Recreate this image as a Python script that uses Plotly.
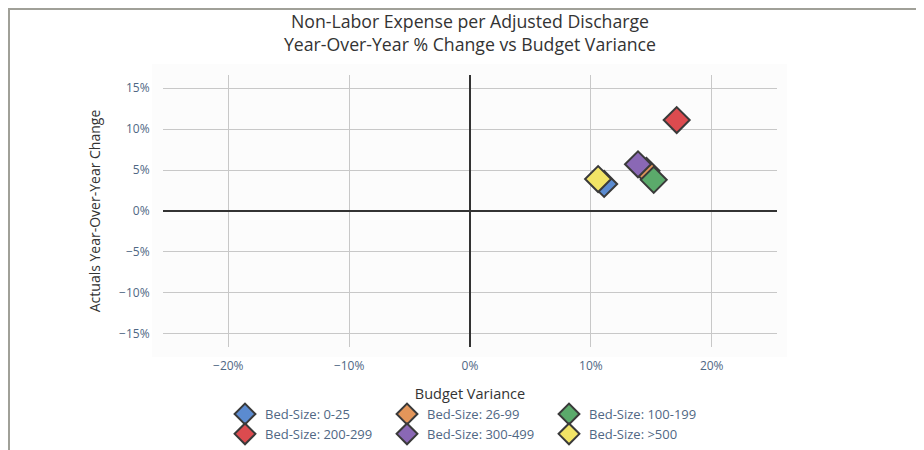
import plotly.graph_objects as go

# Data
series_names = ["Bed-Size: 0-25", "Bed-Size: 26-99", "Bed-Size: 100-199",
                "Bed-Size: 200-299", "Bed-Size: 300-499", "Bed-Size: >500"]
budget_variance = [0.111, 0.146, 0.152, 0.171, 0.139, 0.106]
yoy_change = [0.033, 0.049, 0.038, 0.111, 0.057, 0.039]
colors = ["#5B8BD0", "#E3965A", "#5BAA6B", "#DC4B4F", "#8A68B5", "#F2E466"]

x_ticks = [-0.2, -0.1, 0, 0.1, 0.2]
y_ticks = [-0.15, -0.10, -0.05, 0, 0.05, 0.10, 0.15]

# page body has an 8px margin, so work in figure coordinates = page - 8
OFF = 8
W, H = 924 - OFF, 450 - OFF
ML, MR, MT, MB = 163 - OFF, 147, 75 - OFF, 103
PW, PH = W - ML - MR, H - MT - MB

def px_x(p):  # page pixel -> paper x
    return (p - OFF - ML) / PW

def px_y(p):  # page pixel -> paper y
    return (H - MB - (p - OFF)) / PH

fig = go.Figure()
for name, xv, yv, c in zip(series_names, budget_variance, yoy_change, colors):
    fig.add_trace(go.Scatter(
        x=[xv], y=[yv], mode="markers", name=name,
        marker=dict(symbol="diamond", size=20, color=c,
                    line=dict(color="#3a3a3a", width=2)),
    ))

fig.update_layout(
    width=W, height=H,
    margin=dict(l=ML, r=MR, t=MT, b=MB, autoexpand=False),
    paper_bgcolor="white",
    plot_bgcolor="#fcfcfc",
    font=dict(family="Open Sans", size=12, color="#506784"),
    title=dict(
        text="Non-Labor Expense per Adjusted Discharge<br>Year-Over-Year % Change vs Budget Variance",
        x=0.5, xref="paper", xanchor="center",
        y=1 - 20 / H, yref="container", yanchor="top",
        font=dict(family="Open Sans", size=17.7, color="#333333"),
    ),
    xaxis=dict(
        range=[-0.254, 0.254], tickvals=x_ticks, tickformat=".0%",
        showgrid=True, gridcolor="#c8c8c8", gridwidth=1,
        zeroline=True, zerolinecolor="#333333", zerolinewidth=2,
        showline=False, ticks="outside", ticklen=8, tickcolor="rgba(0,0,0,0)",
        automargin=False,
        title=dict(text="Budget Variance",
                   font=dict(size=14.5, color="#333333")),
    ),
    yaxis=dict(
        range=[-0.166, 0.166], tickvals=y_ticks, tickformat=".0%",
        showgrid=True, gridcolor="#c8c8c8", gridwidth=1,
        zeroline=True, zerolinecolor="#333333", zerolinewidth=2,
        showline=False, ticks="outside", ticklen=10, tickcolor="rgba(0,0,0,0)",
        automargin=False,
        title=dict(text="Actuals Year-Over-Year Change",
                   font=dict(size=14, color="#333333")),
    ),
    legend=dict(
        orientation="h", x=px_x(225), xanchor="left",
        y=px_y(399), yanchor="top",
        entrywidth=117, entrywidthmode="pixels",
        font=dict(size=13, color="#506784"),
        bgcolor="rgba(0,0,0,0)",
    ),
    showlegend=True,
    shapes=[
        dict(type="rect", xref="paper", yref="paper",
             x0=px_x(152), x1=px_x(787), y0=px_y(357), y1=px_y(64),
             fillcolor="#fcfcfc", line=dict(width=0), layer="below"),
        dict(type="line", xref="paper", yref="paper",
             x0=px_x(8), x1=px_x(926), y0=px_y(9), y1=px_y(9),
             line=dict(color="#a0a098", width=2), layer="above"),
        dict(type="line", xref="paper", yref="paper",
             x0=px_x(9), x1=px_x(9), y0=px_y(9), y1=px_y(452),
             line=dict(color="#a0a098", width=2), layer="above"),
    ],
)

fig.write_html("out.html")
